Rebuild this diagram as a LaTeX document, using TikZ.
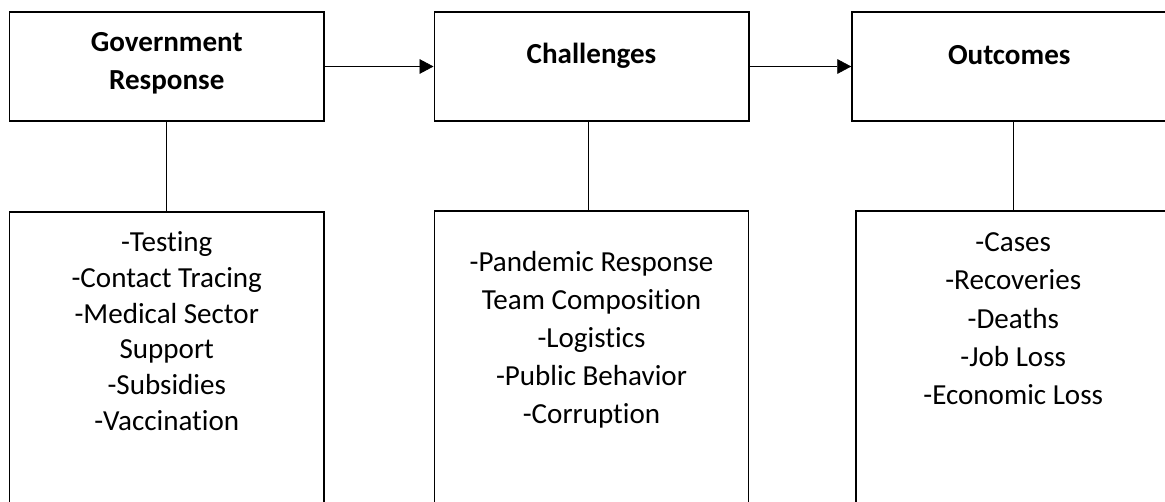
\documentclass[tikz,border=0pt]{standalone}
\usepackage{fontspec}
\setmainfont{Carlito}[Ligatures=NoCommon]
\usetikzlibrary{arrows.meta}
\usetikzlibrary{positioning}
\begin{document}
\begin{tikzpicture}[x=0.75pt, y=0.75pt, >={Triangle[length=10.5pt,width=11pt]},
    headbox/.style={draw, line width=1.1pt, minimum width=235.9pt, minimum height=81.75pt, inner sep=0pt},
    listbox/.style={draw, line width=0.8pt, minimum width=235.9pt, minimum height=240pt, inner sep=0pt},
    headtext/.style={font=\fontsize{21.8}{28.5}\selectfont\bfseries, align=center, inner sep=0pt},
    listtext/.style={font=\fontsize{21.8}{#1}\selectfont, align=center, inner sep=0pt},
    link/.style={line width=0.5pt}]

    \useasboundingbox (0,0) rectangle (1165,-502);
    \clip (0,0) rectangle (1165,-502);

    % top row
    \node[headbox] (gov) at (166.75,-66.5) {};
    \node[headbox] (chal) at (591.5,-66.5) {};
    \node[headbox] (outc) at (1009.25,-66.5) {};

    % lists
    \node[listbox] (govlist) at (166.75,-372) {};
    \node[listbox] (challist) at (591.5,-371) {};
    \node[listbox] (outclist) at (1013.25,-371) {};

    \node[headtext, below=15.75pt of gov.north] (govtitle) {Government\\Response};
    \node[headtext, below=23.6pt of chal.north] (chaltitle) {Challenges};
    \node[headtext, below=25.5pt of outc.north] (outctitle) {Outcomes};

    \node[listtext=26.8pt, below=15pt of govlist.north] (govitems) {-Testing\\-Contact Tracing\\-Medical Sector\\Support\\-Subsidies\\-Vaccination};
    \node[listtext=28.5pt, below=30.4pt of challist.north] (chalitems) {-Pandemic Response\\Team Composition\\-Logistics\\-Public Behavior\\-Corruption};
    \node[listtext=28.7pt, below=16.5pt of outclist.north] (outcitems) {-Cases\\-Recoveries\\-Deaths\\-Job Loss\\-Economic Loss};

    \draw[link, ->] (gov) -- (chal);
    \draw[link, ->] (chal) -- (outc);

    \draw[link] (gov) -- (govlist);
    \draw[link] ([xshift=-2.6pt]chal.south) -- ([xshift=-2.6pt]challist.north);
    \draw[link] (outclist.north) -- (outclist.north |- outc.south);

\end{tikzpicture}
\end{document}
